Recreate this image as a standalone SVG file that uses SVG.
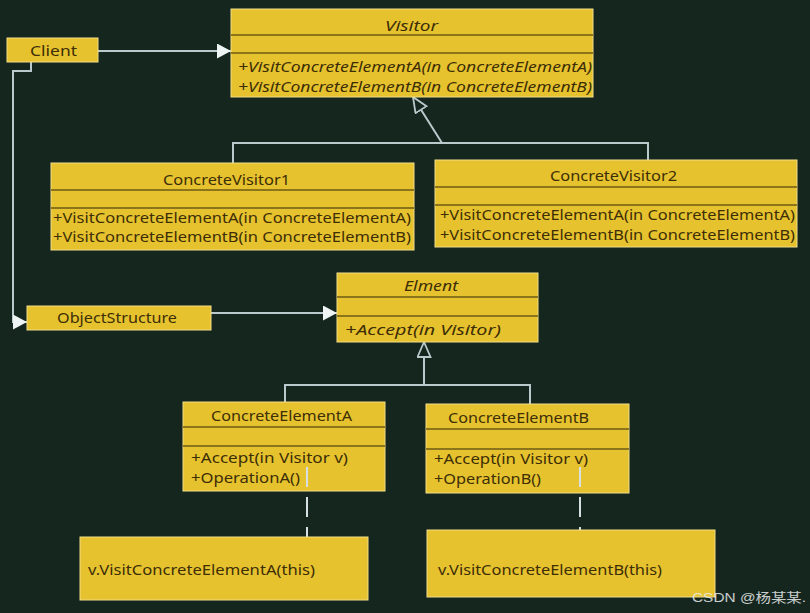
<svg xmlns="http://www.w3.org/2000/svg" width="810" height="613" viewBox="0 0 810 613">
<defs>
<style>
.box{fill:#e6c22f;stroke:#f3dd86;stroke-width:1}
.sep{stroke:#6e5a14;stroke-width:1.3}
.t{font-family:"Noto Sans","Liberation Sans",sans-serif;font-size:15px;fill:#3d2e06}
.s{font-size:14px}
.i{font-style:italic}
.ln{fill:none;stroke:#b9c9cc;stroke-width:2}
.dash{fill:none;stroke:#d6e0e2;stroke-width:2;stroke-dasharray:20 10}
.wm{font-family:"Liberation Sans","Noto Sans CJK SC",sans-serif;font-size:13px;fill:#e8ecec;opacity:0.85}
</style>
<marker id="assoc" markerUnits="userSpaceOnUse" markerWidth="16" markerHeight="16" refX="14" refY="7.5" orient="auto">
<path d="M0,0 L14,7.5 L0,15 z" fill="#eef3f4"/>
</marker>
<marker id="gen" markerUnits="userSpaceOnUse" markerWidth="19" markerHeight="17" refX="16" refY="7" orient="auto">
<path d="M1,0.5 L16,7 L1,13.5 z" fill="#15261f" stroke="#b9c9cc" stroke-width="1.8"/>
</marker>
</defs>
<rect width="810" height="613" fill="#15261f"/>

<g id="connectors">
<path class="ln" d="M98,51 L231,51" marker-end="url(#assoc)"/>
<path class="ln" d="M31,62 L31,71 L13,71 L13,322 L27,322" marker-end="url(#assoc)"/>
<path class="ln" d="M211,313 L337,313" marker-end="url(#assoc)"/>
<path class="ln" d="M233,163 L233,143 L648,143 L648,160"/>
<path class="ln" d="M442,143 L413,97" marker-end="url(#gen)"/>
<path class="ln" d="M285,402 L285,385 L530,385 L530,404"/>
<path class="ln" d="M424,385 L424,342" marker-end="url(#gen)"/>
<path class="dash" d="M307,467 L307,537"/>
<path class="dash" d="M580,467 L580,530"/>
</g>

<g id="visitor">
<rect class="box" x="231" y="9" width="362" height="88"/>
<line class="sep" x1="231" y1="35" x2="593" y2="35"/>
<line class="sep" x1="231" y1="53" x2="593" y2="53"/>
<text class="t i" x="385" y="31" font-size="16" textLength="53" lengthAdjust="spacingAndGlyphs">Visitor</text>
<text class="t i" x="238" y="72" textLength="354" lengthAdjust="spacingAndGlyphs">+VisitConcreteElementA(in ConcreteElementA)</text>
<text class="t i" x="238" y="92" textLength="354" lengthAdjust="spacingAndGlyphs">+VisitConcreteElementB(in ConcreteElementB)</text>
</g>

<g id="client">
<rect class="box" x="7" y="38" width="91" height="24"/>
<text class="t" x="30" y="56" textLength="47" lengthAdjust="spacingAndGlyphs">Client</text>
</g>

<g id="concreteVisitor1">
<rect class="box" x="51" y="163" width="363" height="87"/>
<line class="sep" x1="51" y1="190" x2="414" y2="190"/>
<line class="sep" x1="51" y1="208" x2="414" y2="208"/>
<text class="t" x="163" y="185" textLength="127" lengthAdjust="spacingAndGlyphs">ConcreteVisitor1</text>
<text class="t" x="53" y="223" textLength="358" lengthAdjust="spacingAndGlyphs">+VisitConcreteElementA(in ConcreteElementA)</text>
<text class="t" x="53" y="242" textLength="358" lengthAdjust="spacingAndGlyphs">+VisitConcreteElementB(in ConcreteElementB)</text>
</g>

<g id="concreteVisitor2">
<rect class="box" x="435" y="160" width="362" height="87"/>
<line class="sep" x1="435" y1="187" x2="797" y2="187"/>
<line class="sep" x1="435" y1="205" x2="797" y2="205"/>
<text class="t" x="550" y="181" textLength="127" lengthAdjust="spacingAndGlyphs">ConcreteVisitor2</text>
<text class="t" x="440" y="220" textLength="355" lengthAdjust="spacingAndGlyphs">+VisitConcreteElementA(in ConcreteElementA)</text>
<text class="t" x="440" y="240" textLength="355" lengthAdjust="spacingAndGlyphs">+VisitConcreteElementB(in ConcreteElementB)</text>
</g>

<g id="objectStructure">
<rect class="box" x="27" y="306" width="184" height="24"/>
<text class="t" x="57" y="323" textLength="120" lengthAdjust="spacingAndGlyphs">ObjectStructure</text>
</g>

<g id="elment">
<rect class="box" x="337" y="273" width="201" height="69"/>
<line class="sep" x1="337" y1="297" x2="538" y2="297"/>
<line class="sep" x1="337" y1="316" x2="538" y2="316"/>
<text class="t i" x="404" y="291" textLength="54" lengthAdjust="spacingAndGlyphs">Elment</text>
<text class="t i" x="345" y="335" textLength="156" lengthAdjust="spacingAndGlyphs">+Accept(in Visitor)</text>
</g>

<g id="concreteElementA">
<rect class="box" x="183" y="402" width="202" height="89"/>
<line class="sep" x1="183" y1="427" x2="385" y2="427"/>
<line class="sep" x1="183" y1="446" x2="385" y2="446"/>
<text class="t" x="211" y="421" textLength="141" lengthAdjust="spacingAndGlyphs">ConcreteElementA</text>
<text class="t s" x="191" y="463" textLength="157" lengthAdjust="spacingAndGlyphs">+Accept(in Visitor v)</text>
<text class="t s" x="191" y="483" textLength="109" lengthAdjust="spacingAndGlyphs">+OperationA()</text>
</g>

<g id="concreteElementB">
<rect class="box" x="426" y="404" width="203" height="89"/>
<line class="sep" x1="426" y1="429" x2="629" y2="429"/>
<line class="sep" x1="426" y1="449" x2="629" y2="449"/>
<text class="t" x="448" y="423" textLength="141" lengthAdjust="spacingAndGlyphs">ConcreteElementB</text>
<text class="t s" x="434" y="464" textLength="154" lengthAdjust="spacingAndGlyphs">+Accept(in Visitor v)</text>
<text class="t s" x="434" y="484" textLength="107" lengthAdjust="spacingAndGlyphs">+OperationB()</text>
</g>

<path class="dash" d="M307,467 L307,487 M580,467 L580,487"/>

<g id="noteA">
<rect class="box" x="80" y="537" width="288" height="63"/>
<text class="t" x="88" y="575" textLength="227" lengthAdjust="spacingAndGlyphs">v.VisitConcreteElementA(this)</text>
</g>

<g id="noteB">
<rect class="box" x="427" y="530" width="288" height="67"/>
<text class="t" x="438" y="575" textLength="224" lengthAdjust="spacingAndGlyphs">v.VisitConcreteElementB(this)</text>
</g>

<text class="wm" x="692" y="602" textLength="114" lengthAdjust="spacingAndGlyphs">CSDN @杨某某.</text>
</svg>
